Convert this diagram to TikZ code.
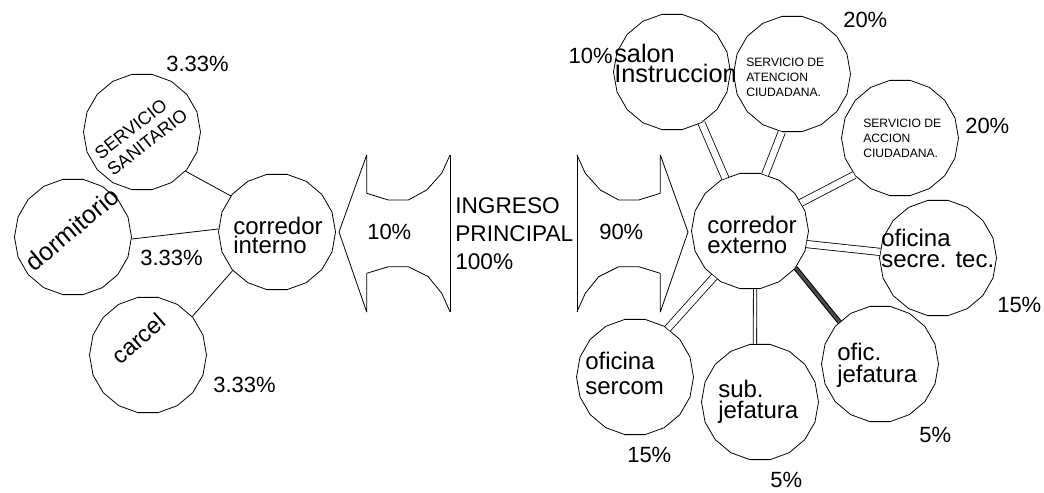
\documentclass[tikz,border=0pt]{standalone}
\usepackage{fontspec}
\setmainfont{Liberation Sans}
\usetikzlibrary{shapes.geometric}
\begin{document}
\begin{tikzpicture}[x=0.75pt,y=-0.75pt,
  room/.style={regular polygon, regular polygon sides=18, minimum size=87.75pt, inner sep=0pt, draw, line width=0.6pt},
  lbl/.style={inner sep=0pt, align=left, anchor=base west},
  small/.style={inner sep=0pt, align=left, anchor=base west, font=\fontsize{9.1}{11.25}\selectfont},
  pct/.style={inner sep=0pt, anchor=base west, font=\fontsize{16.5}{16.5}\selectfont},
  slink/.style={draw, line width=0.6pt},
  dlink/.style={draw, line width=0.6pt, double, double distance=4.8pt},
  dthin/.style={draw, line width=0.6pt, double, double distance=1.9pt},
  tlink/.style={draw, line width=0.8pt, double=black!70, double distance=2pt},
  outline/.style={draw, line width=0.6pt, line join=round}
]
\useasboundingbox[fill=white] (0,0) rectangle (1044,492);

% ---------- left group ----------
\node[room] (sanit) at (142,132) {};
\node[room] (dorm) at (73,237) {};
\node[room] (cint) at (277,232) {};
\node[room] (carcel) at (148,355) {};

\draw[slink] (sanit.-42) -- (cint.142);
\draw[slink] (dorm.-2) -- (cint.177);
\draw[slink] (carcel.41) -- (cint.-139);

\node[inner sep=0pt, align=left, rotate=38, font=\fontsize{13.5}{15.5}\selectfont] (tsanit) at (141,134) {SERVICIO\\SANITARIO};
\node[inner sep=0pt, anchor=base, rotate=40, font=\fontsize{19}{19}\selectfont] (tdorm) at (78,236) {dormitorio};
\node[inner sep=0pt, anchor=base, rotate=41, font=\fontsize{17.5}{17.5}\selectfont] (tcarcel) at (144,345) {carcel};
\node[lbl, font=\fontsize{18}{14.25}\selectfont] (tcint) at (233,253) {corredor\\interno};

\node[pct] (p1) at (166,71) {3.33\%};
\node[pct] (p2) at (140,265) {3.33\%};
\node[pct] (p3) at (213,392) {3.33\%};

% ---------- entrance arrows ----------
\draw[outline] (450,155) -- (450,312);
\draw[outline] (366.7,193.3) -- (366.7,155) -- (339,232) -- (366.7,312) -- (366.7,273.3);
\draw[outline] (366.7,193.3) -- (388.3,200) -- (408.3,200) -- (426.7,190) -- (441.7,173.3) -- (450,155);
\draw[outline] (366.7,273.3) -- (388.3,266.7) -- (408.3,266.7) -- (428.3,276.7) -- (441.7,293.3) -- (450,311.7);
\begin{scope}[shift={(1027,0)}, xscale=-1]
\draw[outline] (450,155) -- (450,312);
\draw[outline] (366.7,193.3) -- (366.7,155) -- (339,232) -- (366.7,312) -- (366.7,273.3);
\draw[outline] (366.7,193.3) -- (388.3,200) -- (408.3,200) -- (426.7,190) -- (441.7,173.3) -- (450,155);
\draw[outline] (366.7,273.3) -- (388.3,266.7) -- (408.3,266.7) -- (428.3,276.7) -- (441.7,293.3) -- (450,311.7);
\end{scope}

\node[pct] (p10) at (367,239) {10\%};
\node[pct] (p90) at (599,239) {90\%};
\node[lbl, font=\fontsize{17}{20.8}\selectfont] (ingreso) at (455,269) {INGRESO\\PRINCIPAL\\100\%};

% ---------- right group ----------
\node[room] (cext) at (750,231) {};
\node[room] (salon) at (672,72) {};
\node[room] (aten) at (792,74) {};
\node[room] (accion) at (900,138) {};
\node[room] (secre) at (938,258) {};
\node[room] (sercom) at (635,377) {};
\node[room] (subj) at (760,402) {};
\node[room] (oficj) at (880,364) {};

\draw[dlink] (salon.-60) -- (cext.115);
\draw[dlink] (aten.-100) -- (cext.75);
\draw[dlink] (accion.-141) -- (cext.29);
\draw[dlink] (secre.174) -- (cext.-13);
\draw[dlink] (sercom.56) -- (cext.-128);
\draw[dthin] (subj.95) -- (cext.-85);
\draw[tlink] (oficj.134) -- (cext.-39);

\node[lbl, font=\fontsize{18}{15}\selectfont] (tcext) at (707,253) {corredor\\externo};
\node[lbl, font=\fontsize{19}{15}\selectfont] (tsalon) at (614,83) {salon\\Instruccion};
\node[pct, anchor=base east] (p10b) at (613,64) {10\%};
\node[small] (taten) at (746,96.5) {SERVICIO DE\\ATENCION\\CIUDADANA.};
\node[small] (taccion) at (863,157) {SERVICIO DE\\ACCION\\CIUDADANA.};
\node[pct] (p20a) at (843,28) {20\%};
\node[pct] (p20b) at (965,133) {20\%};
\node[lbl, font=\fontsize{18}{15.75}\selectfont] (tsecre) at (881,267) {oficina\\secre. tec.};
\node[pct] (p15a) at (997,312) {15\%};
\node[lbl, font=\fontsize{18}{18.75}\selectfont] (tsercom) at (585,394) {oficina\\sercom};
\node[pct] (p15b) at (627,462) {15\%};
\node[lbl, font=\fontsize{18}{15.75}\selectfont] (tsubj) at (718,418) {sub.\\jefatura};
\node[pct] (p5a) at (770,487) {5\%};
\node[lbl, font=\fontsize{18}{16.5}\selectfont] (toficj) at (837,382) {ofic.\\jefatura};
\node[pct] (p5b) at (919,442) {5\%};
\end{tikzpicture}
\end{document}
